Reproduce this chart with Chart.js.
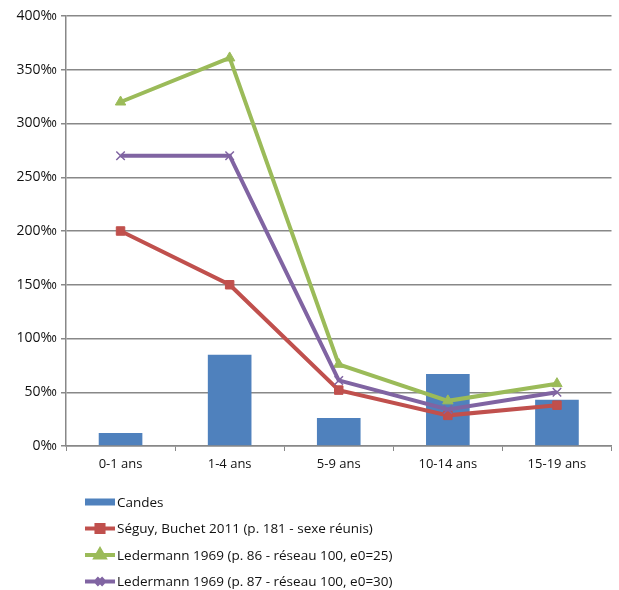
<!DOCTYPE html>
<html>
<head>
<meta charset="utf-8">
<script src="https://cdn.jsdelivr.net/npm/chart.js@4/dist/chart.umd.min.js"></script>
<style>
  html, body { margin: 0; padding: 0; background: #fff; }
  #wrap { width: 619px; height: 590px; position: relative; }
</style>
</head>
<body>
<div id="wrap"><canvas id="chart"></canvas></div>
<script>
// Data (per mille)
const categories = ['0-1 ans', '1-4 ans', '5-9 ans', '10-14 ans', '15-19 ans'];
const candes = [12, 85, 26, 67, 43];
const seguy = [200, 150, 52, 28.5, 38];
const ledermann25 = [320, 361, 76, 42, 58];
const ledermann30 = [270, 270, 61, 34, 50];

const FONT = "'Open Sans', 'Liberation Sans', sans-serif";

// Legend drawn on the canvas, one item per row, under the plot
const listLegend = {
  id: 'listLegend',
  afterDraw(chart) {
    const ctx = chart.ctx;
    const x0 = 85;
    ctx.save();
    chart.data.datasets.forEach((ds, i) => {
      const y = 502 + i * 26.5;
      if (ds.type === 'bar') {
        ctx.fillStyle = ds.backgroundColor;
        ctx.fillRect(x0, y - 3.5, 30, 7);
      } else {
        ctx.strokeStyle = ds.borderColor;
        ctx.lineWidth = 4;
        ctx.beginPath();
        ctx.moveTo(x0, y);
        ctx.lineTo(x0 + 30, y);
        ctx.stroke();
        ctx.fillStyle = ds.pointBackgroundColor;
        ctx.strokeStyle = ds.pointBorderColor;
        Chart.helpers.drawPoint(ctx, {
          pointStyle: ds.pointStyle,
          radius: 5,
          rotation: 0,
          borderWidth: ds.pointBorderWidth
        }, x0 + 15, y);
      }
      ctx.fillStyle = '#111';
      ctx.font = '13.5px ' + FONT;
      ctx.textBaseline = 'middle';
      ctx.textAlign = 'left';
      ctx.fillText(ds.label, x0 + 32, y + 1);
    });
    ctx.restore();
  }
};

new Chart(document.getElementById('chart'), {
  data: {
    labels: categories,
    datasets: [
      {
        type: 'bar',
        label: 'Candes',
        data: candes,
        backgroundColor: '#4F81BD',
        barPercentage: 0.4,
        categoryPercentage: 1,
        order: 4
      },
      {
        type: 'line',
        label: 'Séguy, Buchet 2011 (p. 181 - sexe réunis)',
        data: seguy,
        borderColor: '#C0504D',
        borderWidth: 4,
        pointStyle: 'rect',
        pointRadius: 6,
        pointBackgroundColor: '#C0504D',
        pointBorderColor: '#C0504D',
        pointBorderWidth: 1,
        tension: 0,
        order: 3
      },
      {
        type: 'line',
        label: 'Ledermann 1969 (p. 86 - réseau 100, e0=25)',
        data: ledermann25,
        borderColor: '#9BBB59',
        borderWidth: 4,
        pointStyle: 'triangle',
        pointRadius: 6,
        pointBackgroundColor: '#9BBB59',
        pointBorderColor: '#9BBB59',
        pointBorderWidth: 1,
        tension: 0,
        order: 2
      },
      {
        type: 'line',
        label: 'Ledermann 1969 (p. 87 - réseau 100, e0=30)',
        data: ledermann30,
        borderColor: '#8064A2',
        borderWidth: 4,
        pointStyle: 'crossRot',
        pointRadius: 6,
        pointBackgroundColor: '#8064A2',
        pointBorderColor: '#8064A2',
        pointBorderWidth: 1.5,
        tension: 0,
        order: 1
      }
    ]
  },
  options: {
    responsive: true,
    maintainAspectRatio: false,
    animation: false,
    layout: { padding: { top: 16, right: 0, bottom: 114, left: 0 } },
    plugins: {
      legend: { display: false },
      tooltip: { enabled: false }
    },
    scales: {
      x: {
        offset: true,
        afterFit: s => { s.height = 30; },
        grid: {
          offset: true,
          drawOnChartArea: false,
          drawTicks: true,
          tickLength: 5,
          color: '#888'
        },
        border: { color: '#888', width: 1.5 },
        ticks: { color: '#111', font: { family: FONT, size: 13 }, padding: 5 }
      },
      y: {
        min: 0,
        max: 400,
        afterFit: s => { s.width = 66; },
        ticks: {
          stepSize: 50,
          color: '#111',
          font: { family: FONT, size: 14 },
          padding: 4,
          callback: v => v + '‰'
        },
        grid: { color: '#888', lineWidth: 1.5, tickLength: 5 },
        border: { color: '#888', width: 1.5 }
      }
    }
  },
  plugins: [listLegend]
});
</script>
</body>
</html>
